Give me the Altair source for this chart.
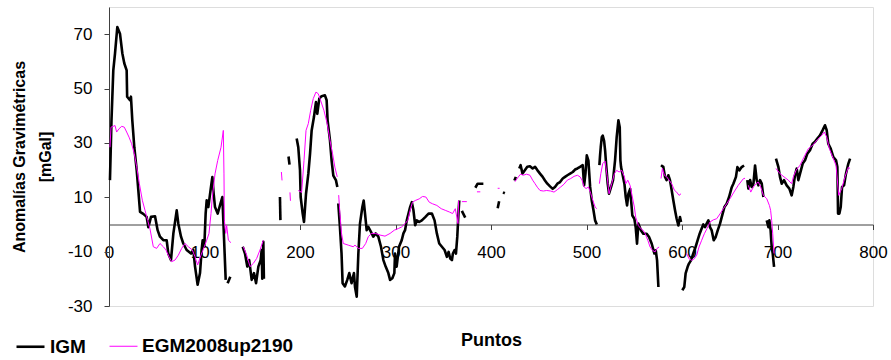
import altair as alt
import pandas as pd

# ---- data (None = gap in the line) ----
igm_x = [1, 2.6, 4.5, 6.3, 8.7, 11.5, 14, 16, 18.5, 19, 22, 23, 24.4, 26.5, 29, 30.7, 32.5, 35.9, 39.4, 41.2, 44, 48.2,
         50.9, 53.4, 56.9, 60.4, 62.1, 64.9, 67.4, 70.9, 72.6, 75.4, 77.8, 81.3, 85.9, 88.3, 90.1, 92.8, 95.3, 97, 98.1,
         99.8, 101.2, 102.3, 104, 106.8, 108.2, 109.6, 111, 113.8, 116.2, 118.7, 119.7, 120.8, 122.2, None,
         124.2, 127, None,
         140, 142.4, 144.8, 146.8, 149.4, 151.8, 154, 156.4, 158.8, 159.9, 160.5, 161.6, 162.2, None,
         179, 179.5, None,
         188, 189, None,
         196.5, 198.2, 200, 200.7, 202.8, 204.2, 206.3, 208.7, 210.5, 212.2, 214.6, 216.7, 218.1, 220.2, 222.6, 226.1,
         227.9, 228.9, 231.4, 233.1, 234.9, 237.7, 239.1, None,
         240.1, 241.8, 243.5, 244.6, 247, 249.5, 251.6, 254, 256.5, 257.6, 259.4, 261.1, 262.8, 265.3, 266.7, 268.1,
         269.8, 271.5, 274.3, 276.7, 279.2, 282, 284.8, 287.3, 289.7, 292.5, 294.3, 296.7, 298.8, 299.5, 301.2, 303.7,
         306.5, 308.3, 310, 311.8, 313.6, 315.3, 317.1, 318.8, 320.6, 322.3, 324.8, 327.6, 331.1, 334.6, 338.1, 340.9,
         343.3, 345.8, 348.6, 351.4, 353.8, 355.6, 357.3, 359.1, 360.1, 361.9, 363.3, 364.7, 366.1, 366.8, None,
         369.5, 373, None,
         383.6, 386, 392, None,
         407, 408.5, None,
         412.5, 414.5, None,
         424.5, 426, None,
         429.6, 431, 433, 435.6, 438, 440.8, 443.6, 446.1, 448.5, 451.3, 454.1, 456.5, 459, 461.8, 464.6, 467, 469.5,
         472.3, 475.1, 477.5, 480, 482.8, 485.6, 488, 490.5, 493.3, 496, 497.5, 498.9, 500.3, 502, 503.8, 505.5, 507.3,
         509, 510.8, None,
         513.5, 514.2, 514.9, 516, 517, 518.4, 519.5, 520.5, 522.2, 523.6, 525.7, 527.8, 529.9, 531.6, 533.4, 534.8,
         535.5, 536.2, 537.6, 539.7, 541.1, 542.5, 543.9, 545.7, 548, 550.1, 551.5, 552.9, 554.3, 557.1, 559.5, 563,
         565.5, 568.3, 571.1, 572.5, 573.9, 575.3, None,
         578, 580.4, 582.2, 583.9, 585.7, 587.4, 589.2, 590.9, 592.7, 594.4, 596.2, 597.9, 599, None,
         600.3, 602.4, 603.8, 605.9, 607.3, 609.4, 611.8, 614.3, 616.4, 618.5, 620.6, 622.3, 624.1, 625.8, 627.6, 629.3,
         631.1, 633.2, 635.3, 637.4, 639.8, 641.6, 644.4, 646.8, 649.3, 652.1, 653.8, 656.5, 658, 660, 662.5, 665, None,
         668.4, 669.5, 671.3, 673, 674.8, 676.5, 678.2, 680, 681.7, 683.5, 685.2, None,
         688.7, 690.5, 691.5, 692.8, 693.9, 695, 696.4, None,
         698.4, 700.9, 702.6, 704.4, 706.8, 709.6, 712.4, 714.8, 716.6, 718.3, 720.1, 721.8, 723.6, 726.4, 728.8, 731.2,
         734, 736.8, 739.2, 741.7, 744.5, 747.3, 749.7, 751.5, 753.2, 755.7, 758.5, 761.3, 762.7, 763.4, 764.8, 766.2,
         767.6, 769.7, 771.7, 774.2, 776]
igm_y = [16.3, 38.3, 56.7, 62.9, 72.6, 70.2, 62.9, 59.3, 56.7, 47, 45.7, 47, 38.3, 28.4, 20, 12.6, 4.6, 3.9, 2.8, -1, 2.8, 3,
         -2.1, -4.5, -5.8, -5.8, -10.7, -13.1, -3.3, 5.2, 0.3, -4.5, -7, -9.4, -10.7, -9.4, -15.5, -22.2, -17.9, -9.4, -5.8,
         -8.2, 4, 8.9, 6.4, 13.8, 17.4, 11.3, 6.4, 4, 7, 10.1, 1.5, -8.2, -20.4, None,
         -21.6, -19.2, None,
         -8.2, -10.7, -15.5, -13.1, -20.4, -17.9, -21.6, -15.5, -13.1, -9.4, -20, -6.4, -20, None,
         10.1, 1.6, None,
         25, 22, None,
         31.6, 28.4, 19.9, 10.1, 4, 0.9, 11.3, 18.6, 26, 34.6, 39.5, 45, 40.7, 46.3, 47.2, 47.5,
         45.7, 38.3, 30.9, 23.5, 18, 16.2, 13.8, None,
         7.7, -0.9, -10.7, -21.6, -22.8, -20.4, -17.9, -21.6, -17.9, -23, -26.6, -10.7, 0.3, 6.4, 8.8, 4,
         -2.1, -0.9, -2.7, -4.5, -3.3, -4.5, -8.2, -13.1, -15.5, -17.9, -20.4, -19.8, -17.9, -10.7, -15.5, -8.2,
         -5.8, -3.3, -2.1, 1.5, 4, 6.4, 8.2, 5.2, -0.3, 1.5, 0.9, 1.5, 2.7, 4, 4, 1.5,
         -3.3, -7, -8.2, -9.4, -11.9, -10.1, -12.5, -13.1, -10.7, -9.4, -10.7, -4.5, 5.2, 8.8, None,
         5, 2.5, None,
         13.5, 15, 15, None,
         6, 8.5, None,
         11.8, 11.5, None,
         16.2, 17.5, None,
         20.6, 21.8, 18.7, 20, 21.2, 21.4, 20.6, 21.2, 20, 18.7, 17.5, 16.2, 15, 14, 13.1, 13.8, 15,
         15.6, 16.9, 17.5, 18.1, 18.7, 19.3, 20.2, 20.6, 21.2, 21.8, 14.4, 18.7, 25.4, 23.5, 13.8, 8.8, 5.2,
         1.5, 0, None,
         21.8, 25.4, 28.4, 32.1, 32.7, 30.8, 27.2, 22.3, 15, 11.3, 13.7, 16.3, 23.6, 32.1, 38.3, 35.8,
         23.6, 21.1, 18.7, 15, 10.1, 7, 11.3, 13.1, 3.3, 2.1, -1, -7.1, 0.3, -2.2, -3.4, -3.4,
         -4.6, -7.1, -10.7, -9.5, -13.2, -23, None,
         21.8, 21.2, 17.5, 16.3, 18.1, 16.3, 12.6, 8.9, 5.2, 2.1, -0.4, 2.7, 0.9, None,
         -24.2, -23, -18, -15.6, -14.4, -13.2, -10.7, -8.2, -5.8, -3.4, -1.5, 0, -1, 0.3, 1.5, -1,
         -2.2, -5.8, -4.6, -2.2, 0.3, 2.7, 6.4, 7.6, 10.1, 13.7, 15, 17.5, 21.1, 19.9, 21.1, 21.7, None,
         16.3, 13.2, 16.3, 13.8, 15, 21.7, 16.3, 14.4, 16.3, 15, 10.1, None,
         1.5, -1, 1.5, -2.2, -8.2, -10.7, -15.6, None,
         24.2, 21.2, 17.5, 15, 16.3, 14.4, 13.2, 10.7, 13.8, 18.1, 20.6, 16.3, 18.7, 22.4, 23.6, 26,
         27.3, 29.7, 30.4, 31.6, 32.8, 34.7, 36.5, 34.7, 29.7, 27.9, 24.8, 23.6, 21.1, 4, 4, 6.4,
         13.8, 14.4, 18.7, 22.4, 24.2]

egm_x = [1, 2.1, 4.5, 6.3, 8, 10.5, 13.3, 16, 18.5, 21, 23.7, 26.5, 29, 31.8, 34.9, 37.7, 40.5, 42.9, 46.4, 49.9, 53.4,
         56.9, 59.7, 62.8, 65.6, 69.1, 72.6, 76.1, 79.6, 83.1, 87.3, 90.1, 92.8, 96.3, 99.8, 102.3, 104.7, 106.8, 108.2,
         111, 113.8, 117.3, 119.7, 120.4, 120.8, 122.2, 123.2, 125, 127.7, None,
         140.7, 144.2, 147.7, 151.2, 154.6, 158.1, 161.6, None,
         180.5, 181.2, None,
         189.5, 190, None,
         198.2, 201.7, 204.2, 206.3, 208.7, 211.2, 213.9, 216.7, 219.1, 221.5, 225, 228.5, 231.4, 234.1, 236.5, 239, None,
         240.5, 241.8, 243.5, 245.3, 250.5, 255.7, 257.6, 261.1, 265.3, 268.8, 271.5, 275, 279.2, 283.8, 289, 294.3,
         298.8, 303, 306.5, 310, 312.9, 315.3, 317.8, 320.6, 324.8, 328.3, 331.8, 335.3, 338.8, 343.3, 347.9, 352.1,
         356.3, 359.8, 362.6, 365.4, 366.1, None,
         369.5, 374.7, None,
         385.3, 388.8, None,
         407, 409, None,
         425, 428.6, 431, 433.8, 437.3, 440.8, 443.6, 446.1, 448.5, 451.3, 454.8, 458.3, 462.5, 466, 469.5, 473, 476.4,
         479.9, 483.5, 487, 490.5, 493.3, 495.3, 497.5, 499.6, 502, 504.5, 506.6, 509, 510.8, None,
         513.5, 515, 517, 519.5, 521.5, 523.6, 526.4, 529.2, 531.6, 534.1, 536.9, 539.7, 541.1, 543.2, 545.7, 548,
         550.1, 551.5, 554.3, 557.1, 559.5, 561.4, 564.2, 566.6, 569, 571.8, 573.6, 576, None,
         578, 579.5, 581.5, 584, 586.5, 589.2, 592, 594.4, 596.9, 599, None,
         604.9, 607.3, 610.1, 612.9, 615.4, 617.8, 620.6, 623.4, 626.2, 629.3, 632.8, 636.3, 639.8, 643.3, 646.8, 650.3,
         654.4, 658.9, 664.2, 666, None,
         669.5, 672, 674.8, 677.5, 680, 682.4, 685.2, 688.7, 691.5, 692.8, 693.9, 695, 696.4, None,
         698.4, 702.6, 706.8, 711.3, 714.8, 716.6, 719.4, 723.6, 727.8, 732.3, 736.8, 741.7, 746.3, 749, 751.5, 754.3,
         757.8, 761.3, 764.1, 767.2, 770.7, 774.2, 776]
egm_y = [28.4, 35.8, 36.1, 36.4, 34, 35.2, 36.1, 35.8, 34, 32.1, 29.7, 26, 21.2, 15, 8.9, 5.2, 1.5, -1.6, -8.2, -8.8, -7,
         -8.2, -9.4, -11.9, -13.7, -13.1, -11.3, -8.8, -7, -8.2, -9.4, -11.9, -14.9, -11.3, -8.2, -5.8, -3.3, 4, 10.1,
         18.6, 23.5, 28.4, 34.6, 18.6, 1.5, -3.3, -0.3, -5.8, -6.7, None,
         -8.2, -11.3, -15.5, -14.3, -12.5, -9.4, -5.8, None,
         19.3, 16.2, None,
         11.8, 8.7, None,
         12.5, 11.8, 23.5, 34.6, 37.1, 42, 46.3, 48.7, 48.1, 45.7, 42, 37.1, 30.9, 26, 21.1, 17.5, None,
         10.8, 4, -3.3, -7, -7.6, -8.2, -7.6, -8.8, -8.8, -7, -4.5, -3.3, -3.3, -3.9, -4.3, -3.3,
         -2.1, -1.5, -0.9, 0.3, 1.5, 5.2, 8.2, 8.8, 9.4, 10.3, 10.1, 8.2, 7.6, 7, 5.8, 5.2,
         4.6, 4, 5.8, 0.3, 8.8, None,
         8.4, 8.4, None,
         12, 12, None,
         13.3, 13.3, None,
         15.7, 17.5, 18.5, 18.1, 18.5, 18.1, 16.3, 15, 13.7, 12.5, 12.3, 12.5, 12.3, 11.9, 12.8, 13.8, 14.8,
         16.3, 16.9, 17.7, 18.1, 17.5, 16.3, 13.8, 13.2, 13.8, 11.3, 8.9, 6.4, 5.8, None,
         15, 18.7, 22.4, 23.3, 18, 11.3, 15, 18.7, 19.9, 19.3, 19.9, 17.5, 15, 16.3, 14.3, 10.1,
         6.4, 2.7, -0.4, -1.6, -2.2, -3.4, -5.8, -8.3, -9.5, -10.1, -8.9, -8.3, None,
         16.9, 20.6, 18.1, 17.5, 16.3, 15, 12.6, 11.9, 10.7, 11.3, None,
         -10.7, -12.6, -13.2, -12.6, -11.3, -8.3, -5.8, -3.4, -1.5, 0.9, 1.7, 2.1, 3.9, 5.8, 7.6, 9.5,
         11.9, 14.4, 16.8, 17, None,
         14.4, 11.9, 13.8, 15, 15.6, 13.8, 10.7, 9.5, 7, 5.2, 1.5, -3.4, -10.7, None,
         20.6, 18.7, 17.5, 16.3, 15, 17.5, 19.9, 21.8, 24.8, 27.9, 29.1, 31.2, 32.8, 34, 32.2, 27.9,
         24.8, 21.7, 10.7, 13.2, 17.5, 21.1, 20.5]

series_names = ["IGM", "EGM2008up2190"]
series_colors = ["#000000", "#FF00FF"]
series_widths = [2.6, 1.0]
x_ticks = [0, 100, 200, 300, 400, 500, 600, 700, 800]
y_ticks = [-30, -10, 10, 30, 50, 70]

rows = []
for name, xs, ys in [(series_names[0], igm_x, igm_y), (series_names[1], egm_x, egm_y)]:
    seg = 0
    for i, (xv, yv) in enumerate(zip(xs, ys)):
        if xv is None or yv is None:
            seg += 1
            continue
        rows.append({"x": xv, "y": yv, "series": name, "seg": f"{name}_{seg}", "i": i})
df = pd.DataFrame(rows)

FONT = "Liberation Sans"
AXC = "#404040"
HYPHEN_LABEL = "datum.value < 0 ? '-' + abs(datum.value) : '' + datum.value"

legend = alt.Legend(
    title=None, orient="none", legendX=-94, legendY=324, direction="horizontal",
    symbolType="stroke", symbolSize=784, labelFont=FONT, labelFontSize=19,
    labelFontWeight="bold", labelColor="#000000", labelOffset=4, columnPadding=21,
    padding=0,
)

x_enc = alt.X("x:Q", scale=alt.Scale(domain=[0, 800], nice=False, zero=False),
              axis=alt.Axis(values=x_ticks, title="Puntos", offset=-81.5, tickSize=5,
                            labelPadding=15, labelFontSize=17, labelFont=FONT,
                            labelColor="#000000", titleFont=FONT, titleFontSize=18,
                            titleFontWeight="bold", titleColor="#000000", titlePadding=71,
                            domainColor=AXC, tickColor=AXC, grid=False, labelFlush=False,
                            labelOverlap=False))
y_enc = alt.Y("y:Q", scale=alt.Scale(domain=[-30, 80], nice=False, zero=False),
              axis=alt.Axis(values=y_ticks, title=["Anomalías Gravimétricas", "[mGal]"], tickSize=5,
                            labelPadding=12, labelFontSize=17, labelFont=FONT,
                            labelColor="#000000", titleFont=FONT, titleFontSize=16,
                            titleFontWeight="bold", titleColor="#000000", titlePadding=14,
                            titleLineHeight=26, domainColor=AXC, tickColor=AXC, grid=False,
                            labelFlush=False, labelExpr=HYPHEN_LABEL))
color_enc = alt.Color("series:N", scale=alt.Scale(domain=series_names, range=series_colors), legend=legend)
width_enc = alt.StrokeWidth("series:N", scale=alt.Scale(domain=series_names, range=series_widths), legend=legend)

base = alt.Chart(df).mark_line(strokeJoin="round", strokeCap="butt").encode(
    x=x_enc, y=y_enc, color=color_enc, strokeWidth=width_enc,
    detail="seg:N", order="i:Q",
)

layer_igm = base.transform_filter(alt.datum.series == series_names[0])
layer_egm = base.transform_filter(alt.datum.series == series_names[1])

chart = alt.layer(layer_igm, layer_egm).properties(
    width=764, height=299,
    padding={"left": 109, "top": 7, "right": 18, "bottom": 54},
    autosize="none",
).configure_view(stroke=None).configure(font=FONT)

chart.save("out.html", embed_options={"renderer": "svg", "actions": False})
